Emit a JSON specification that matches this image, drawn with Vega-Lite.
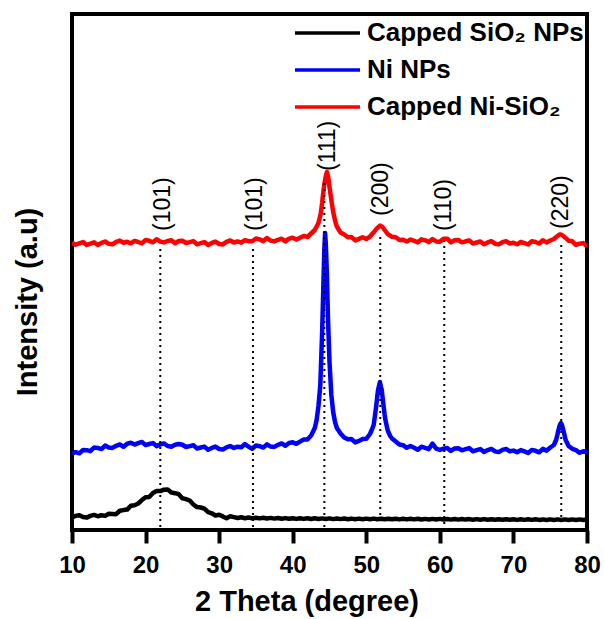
{
"$schema":"https://vega.github.io/schema/vega-lite/v6.json",
"width":515,"height":516,
"autosize":{"type":"none"},
"padding":{"left":72,"top":14,"right":17,"bottom":89},
"background":"white",
"config":{
 "view":{"stroke":"black","strokeWidth":4},
 "axisX":{"domain":false,"grid":false,"tickSize":13,"tickWidth":4,"tickColor":"black","labelFont":"Liberation Sans","labelFontWeight":"bold","labelFontSize":24,"labelColor":"black","labelPadding":10,"labelFlush":false,"labelOverlap":false,"labelBound":false,"titleFont":"Liberation Sans","titleFontWeight":"bold","titleFontSize":29,"titleColor":"black","titleX":234.5,"titleY":80,"titleAlign":"center","titleBaseline":"alphabetic"},
 "axisY":{"domain":false,"grid":false,"ticks":false,"labels":false,"titleFont":"Liberation Sans","titleFontWeight":"bold","titleFontSize":29,"titleColor":"black","titleX":-45,"titleY":287.5,"titleAngle":270,"titleAlign":"center","titleBaseline":"middle"}
},
"datasets":{
"xrd":[
{"x":10,"k":12.7,"b":76.5,"r":287.2},{"x":10.5,"k":14.1,"b":77.8,"r":285.3},{"x":11,"k":14.8,"b":76.7,"r":286.6},{"x":11.5,"k":12.9,"b":80.0,"r":287.9},
{"x":12,"k":12.4,"b":79.8,"r":285.0},{"x":12.5,"k":14.1,"b":78.8,"r":286.3},{"x":13,"k":15.1,"b":82.5,"r":287.7},{"x":13.5,"k":13.75,"b":82.1,"r":285.0},
{"x":14,"k":14.7,"b":80.9,"r":287.1},{"x":14.5,"k":14.1,"b":84.4,"r":288.5},{"x":15,"k":16.2,"b":82.4,"r":286.2},{"x":15.5,"k":16.1,"b":82.1,"r":285.7},
{"x":16,"k":15.8,"b":84.2,"r":288.2},{"x":16.5,"k":19.25,"b":85.6,"r":289.4},{"x":17,"k":19.9,"b":83.2,"r":287.3},{"x":17.5,"k":20.4,"b":86.3,"r":288.2},
{"x":18,"k":24.3,"b":87.2,"r":286.7},{"x":18.5,"k":24.8,"b":85.4,"r":289.1},{"x":19,"k":26.5,"b":86.9,"r":288.0},{"x":19.5,"k":29.9,"b":88.1,"r":286.7},
{"x":20,"k":32.8,"b":85.0,"r":290.0},{"x":20.5,"k":33.0,"b":86.0,"r":289.2},{"x":21,"k":37.1,"b":86.9,"r":287.7},{"x":21.5,"k":39.0,"b":83.9,"r":290.8},
{"x":22,"k":38.9,"b":85.6,"r":288.4},{"x":22.5,"k":40.3,"b":86.6,"r":287.6},{"x":23,"k":40.6,"b":84.0,"r":289.0},{"x":23.5,"k":37.45,"b":83.2,"r":289.7},
{"x":24,"k":36.8,"b":85.2,"r":286.7},{"x":24.5,"k":35.8,"b":86.0,"r":289.0},{"x":25,"k":31.7,"b":85.2,"r":289.2},{"x":25.5,"k":30.9,"b":83.0,"r":287.0},
{"x":26,"k":29.5,"b":83.9,"r":287.9},{"x":26.5,"k":25.5,"b":84.8,"r":288.9},{"x":27,"k":22.9,"b":81.5,"r":285.7},{"x":27.5,"k":22.5,"b":82.5,"r":286.8},
{"x":28,"k":21.3,"b":83.4,"r":287.9},{"x":28.5,"k":17.85,"b":80.3,"r":285.1},{"x":29,"k":16.7,"b":82.1,"r":287.1},{"x":29.5,"k":14.5,"b":83.4,"r":288.4},
{"x":30,"k":15.2,"b":81.0,"r":286.0},{"x":30.5,"k":13.6,"b":80.4,"r":285.6},{"x":31,"k":11.8,"b":82.7,"r":288.2},{"x":31.5,"k":13.75,"b":84.0,"r":289.6},
{"x":32,"k":12.9,"b":82.0,"r":287.5},{"x":32.5,"k":12.0,"b":83.3,"r":288.6},{"x":33,"k":12.7,"b":82.7,"r":287.3},{"x":33.5,"k":11.8,"b":86.0,"r":289.8},
{"x":34,"k":12.5,"b":83.3,"r":288.8},{"x":34.5,"k":11.6,"b":81.3,"r":288.8},{"x":35,"k":12.3,"b":84.5,"r":291.5},{"x":35.5,"k":11.6,"b":83.8,"r":290.6},
{"x":36,"k":12.2,"b":82.4,"r":288.9},{"x":36.5,"k":11.5,"b":85.7,"r":291.9},{"x":37,"k":12.1,"b":83.4,"r":289.4},{"x":37.5,"k":11.4,"b":83.1,"r":288.6},
{"x":38,"k":12.0,"b":85.2,"r":290.2},{"x":38.5,"k":11.3,"b":86.6,"r":291.3},{"x":39,"k":11.9,"b":84.2,"r":288.6},{"x":39.5,"k":11.2,"b":87.0,"r":291.4},
{"x":40,"k":11.8,"b":87.7,"r":292.2},{"x":40.5,"k":11.1,"b":86.2,"r":290.5},{"x":41,"k":11.8,"b":88.4,"r":292.2},{"x":41.5,"k":11.1,"b":90.6,"r":294.1},
{"x":42,"k":11.8,"b":90.5,"r":293.0},{"x":42.5,"k":11.0,"b":94.5,"r":296.5},{"x":43,"k":11.7,"b":102.0,"r":300.0},{"x":43.5,"k":11.0,"b":124.0,"r":307.0},
{"x":44,"k":11.6,"b":198.0,"r":327.0},{"x":44.5,"k":11.0,"b":286.0,"r":354.0},{"x":45,"k":11.6,"b":168.0,"r":343.0},{"x":45.5,"k":10.9,"b":118.0,"r":318.0},
{"x":46,"k":11.5,"b":102.0,"r":303.5},{"x":46.5,"k":10.9,"b":96.5,"r":297.5},{"x":47,"k":11.5,"b":92.5,"r":295.5},{"x":47.5,"k":10.8,"b":90.7,"r":292.7},
{"x":48,"k":11.4,"b":90.9,"r":292.9},{"x":48.5,"k":10.8,"b":87.6,"r":289.6},{"x":49,"k":11.4,"b":89.1,"r":291.1},{"x":49.5,"k":10.8,"b":90.9,"r":292.7},
{"x":50,"k":11.4,"b":91.2,"r":291.0},{"x":50.5,"k":10.8,"b":96.0,"r":293.4},{"x":51,"k":11.4,"b":105.0,"r":297.5},{"x":51.5,"k":10.7,"b":134.0,"r":302.0},
{"x":52,"k":11.3,"b":143.0,"r":304.0},{"x":52.5,"k":10.7,"b":115.0,"r":300.0},{"x":53,"k":11.3,"b":98.0,"r":295.5},{"x":53.5,"k":10.7,"b":91.5,"r":293.2},
{"x":54,"k":11.3,"b":88.5,"r":292.8},{"x":54.5,"k":10.6,"b":85.5,"r":290.0},{"x":55,"k":11.2,"b":84.8,"r":290.3},{"x":55.5,"k":10.6,"b":82.2,"r":288.4},
{"x":56,"k":11.2,"b":84.0,"r":290.5},{"x":56.5,"k":10.6,"b":82.3,"r":289.2},{"x":57,"k":11.2,"b":80.3,"r":287.6},{"x":57.5,"k":10.5,"b":83.3,"r":290.7},
{"x":58,"k":11.1,"b":82.2,"r":289.7},{"x":58.5,"k":10.5,"b":80.9,"r":287.9},{"x":59,"k":11.1,"b":86.4,"r":290.9},{"x":59.5,"k":10.5,"b":81.4,"r":288.6},
{"x":60,"k":11.1,"b":80.1,"r":288.2},{"x":60.5,"k":10.5,"b":81.4,"r":291.2},{"x":61,"k":11.0,"b":82.1,"r":291.3},{"x":61.5,"k":10.4,"b":79.1,"r":287.6},
{"x":62,"k":11.0,"b":81.6,"r":289.8},{"x":62.5,"k":10.4,"b":81.8,"r":290.0},{"x":63,"k":11.0,"b":79.7,"r":287.7},{"x":63.5,"k":10.4,"b":80.8,"r":288.7},
{"x":64,"k":10.9,"b":81.9,"r":289.6},{"x":64.5,"k":10.3,"b":78.7,"r":286.4},{"x":65,"k":10.9,"b":79.8,"r":287.5},{"x":65.5,"k":10.3,"b":80.9,"r":288.6},
{"x":66,"k":10.9,"b":78.0,"r":285.7},{"x":66.5,"k":10.3,"b":79.9,"r":287.6},{"x":67,"k":10.8,"b":81.1,"r":288.8},{"x":67.5,"k":10.2,"b":78.6,"r":286.3},
{"x":68,"k":10.8,"b":77.9,"r":285.6},{"x":68.5,"k":10.2,"b":80.1,"r":287.8},{"x":69,"k":10.8,"b":81.1,"r":288.8},{"x":69.5,"k":10.2,"b":78.7,"r":286.5},
{"x":70,"k":10.7,"b":79.4,"r":287.3},{"x":70.5,"k":10.1,"b":77.7,"r":285.7},{"x":71,"k":10.7,"b":79.9,"r":288.0},{"x":71.5,"k":10.1,"b":78.6,"r":286.9},
{"x":72,"k":10.7,"b":77.0,"r":285.5},{"x":72.5,"k":10.1,"b":80.1,"r":288.8},{"x":73,"k":10.7,"b":79.2,"r":288.0},{"x":73.5,"k":10.1,"b":77.7,"r":286.5},
{"x":74,"k":10.6,"b":81.1,"r":289.7},{"x":74.5,"k":10.0,"b":79.4,"r":287.6},{"x":75,"k":10.6,"b":82.5,"r":289.5},{"x":75.5,"k":10.0,"b":85.0,"r":291.0},
{"x":76,"k":10.6,"b":96.0,"r":294.0},{"x":76.5,"k":10.0,"b":106.5,"r":295.5},{"x":77,"k":10.6,"b":93.0,"r":292.5},{"x":77.5,"k":10.0,"b":84.0,"r":289.2},
{"x":78,"k":10.6,"b":81.2,"r":288.7},{"x":78.5,"k":10.0,"b":79.8,"r":285.1},{"x":79,"k":10.6,"b":77.2,"r":286.3},{"x":79.5,"k":10.0,"b":78.8,"r":286.9},
{"x":80,"k":10.5,"b":77.5,"r":283.8},
{"x":43.25,"b":110},{"x":43.75,"b":145},{"x":44.15,"b":240},{"x":44.3,"b":282},{"x":44.4,"b":297},{"x":44.65,"b":255},{"x":44.8,"b":210},{"x":45.25,"b":135},{"x":45.75,"b":108},
{"x":50.8,"b":101},{"x":51.1,"b":110},{"x":51.35,"b":124},{"x":51.6,"b":140},{"x":51.85,"b":148},{"x":52.1,"b":140},{"x":52.35,"b":124},{"x":52.6,"b":110},{"x":52.9,"b":100},{"x":53.25,"b":94},
{"x":75.8,"b":90},{"x":76.05,"b":98},{"x":76.3,"b":105},{"x":76.45,"b":107},{"x":76.6,"b":105},{"x":76.85,"b":98},{"x":77.1,"b":90},
{"x":43.8,"r":316},{"x":44.05,"r":331},{"x":44.3,"r":346},{"x":44.65,"r":358},{"x":44.8,"r":354},{"x":45.25,"r":330},{"x":45.8,"r":308},{"x":46.2,"r":301},
{"x":50.9,"r":297},{"x":51.3,"r":300.5},{"x":51.9,"r":304.5},{"x":52.2,"r":303},{"x":52.9,"r":296},
{"x":75.9,"r":293.5},{"x":76.25,"r":295.5},{"x":76.8,"r":294},{"x":77.2,"r":291.5}
],
"refs":[
{"x":22.0,"y0":3,"y1":285,"lx":22.4,"ly":299,"t":"(101)"},
{"x":34.6,"y0":3,"y1":285,"lx":34.9,"ly":299,"t":"(101)"},
{"x":44.3,"y0":3,"y1":350,"lx":44.8,"ly":359,"t":"(111)"},
{"x":51.9,"y0":15,"y1":297,"lx":51.95,"ly":314,"t":"(200)"},
{"x":60.6,"y0":0,"y1":289,"lx":60.5,"ly":299,"t":"(110)"},
{"x":76.5,"y0":13,"y1":285,"lx":76.4,"ly":301,"t":"(220)"}
]
},
"layer":[
{"data":{"name":"xrd"},
 "transform":[{"fold":["k","b","r"],"as":["s","v"]},{"filter":"isValid(datum.v)"}],
 "mark":{"type":"line","strokeWidth":4.5,"strokeJoin":"round","clip":true},
 "encoding":{
  "x":{"field":"x","type":"quantitative","title":"2 Theta (degree)","scale":{"domain":[10,80],"nice":false},"axis":{"values":[10,20,30,40,50,60,70,80]}},
  "y":{"field":"v","type":"quantitative","title":"Intensity (a.u)","scale":{"domain":[0,516],"nice":false}},
  "color":{"field":"s","type":"nominal","scale":{"domain":["k","b","r"],"range":["#000000","#0000FF","#FF0000"]},
   "legend":{"orient":"none","legendX":237.5,"legendY":1,"title":null,"symbolType":"M-2,0H2","symbolSize":1056,"symbolStrokeWidth":3.5,"labelFont":"Liberation Sans","labelFontWeight":"bold","labelFontSize":26,"labelColor":"black","labelOffset":21.5,"rowPadding":6,"padding":0,"labelLimit":0,
    "labelExpr":"datum.value == 'k' ? 'Capped SiO₂ NPs' : datum.value == 'b' ? 'Ni NPs' : 'Capped Ni-SiO₂'"}}
 }},
{"data":{"name":"refs"},
 "mark":{"type":"rule","strokeDash":[2,4],"strokeWidth":2,"color":"black"},
 "encoding":{"x":{"field":"x","type":"quantitative","title":"2 Theta (degree)"},"y":{"field":"y0","type":"quantitative","title":"Intensity (a.u)"},"y2":{"field":"y1"}}},
{"data":{"name":"refs"},
 "mark":{"type":"text","angle":270,"align":"left","baseline":"middle","font":"Liberation Sans","fontSize":23,"color":"black"},
 "encoding":{"x":{"field":"lx","type":"quantitative","title":"2 Theta (degree)"},"y":{"field":"ly","type":"quantitative","title":"Intensity (a.u)"},"text":{"field":"t"}}}
]
}
